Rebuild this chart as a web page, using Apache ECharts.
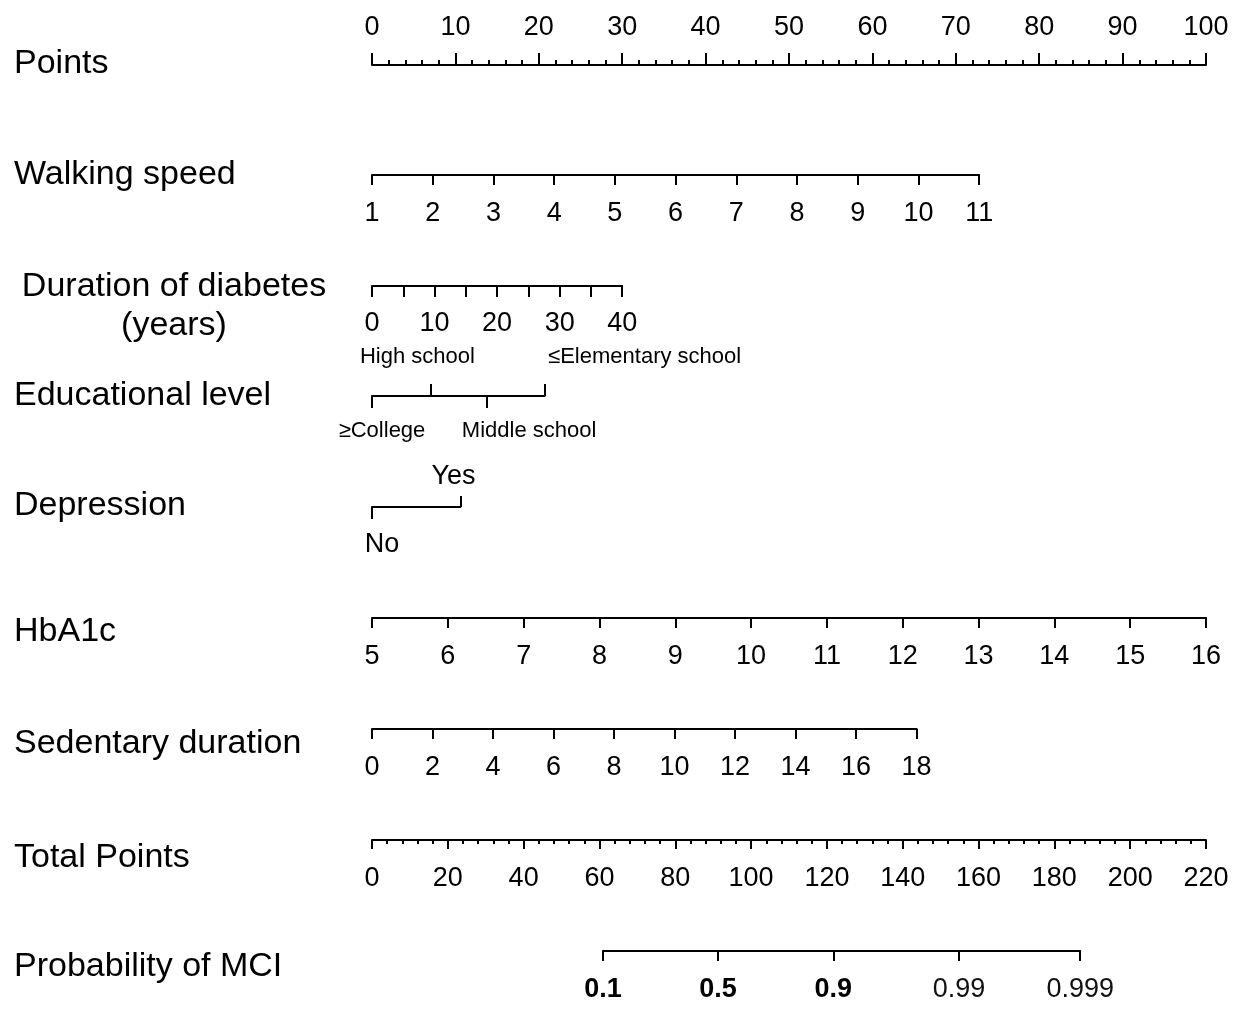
<!DOCTYPE html>
<html>
<head>
<meta charset="utf-8">
<script src="https://cdn.jsdelivr.net/npm/echarts@6/dist/echarts.min.js"></script>
<style>
  html, body { margin: 0; padding: 0; background: #fff; }
  #nomogram { width: 1240px; height: 1020px; }
</style>
</head>
<body>
<div id="nomogram"></div>
<script>
// nomogram rows: value ranges and the points they map to
const pointsRange = [0, 100]
const walkingSpeedRange = [1, 11]
const walkingSpeedPoints = [0, 72.8]
const durationRange = [0, 40]
const durationPoints = [0, 30.0]
const eduLevels = ['≥College', 'High school', 'Middle school', '≤Elementary school']
const eduPoints = [0, 7.0, 13.8, 20.7]
const depressionLevels = ['No', 'Yes']
const depressionPoints = [0, 10.6]
const hba1cRange = [5, 16]
const hba1cPoints = [0, 100]
const sedentaryRange = [0, 18]
const sedentaryPoints = [0, 65.3]
const totalPointsRange = [0, 220]
const probTicks = [0.1, 0.5, 0.9, 0.99, 0.999]
// total points = intercept + slope * logit(p)
const probIntercept = 91.3
const probSlope = 13.83
const rowNames = ['Points', 'Walking speed', 'Duration of diabetes\n(years)', 'Educational level',
  'Depression', 'HbA1c', 'Sedentary duration', 'Total Points', 'Probability of MCI']

// layout
const FONT = '"Liberation Sans", Arial, sans-serif'
const LEFT = 372
const FULL = 834
const pxPerPoint = FULL / (pointsRange[1] - pointsRange[0])
const pxPerTotal = FULL / (totalPointsRange[1] - totalPointsRange[0])
const lineY = [65, 175, 286, 396, 507, 618, 729, 840, 951]
const nameY = [64, 175, 306, 396, 506, 632, 744, 858, 967]
const eduShift = [10, -13, 42, 100]
const depShift = [10, -7]

const lineStyle = { color: '#000', width: 2 }
const labelBase = { color: '#000', fontSize: 27, fontFamily: FONT, margin: 24, showMinLabel: true, showMaxLabel: true }

const grids = []
const xAxes = []
const yAxes = []

function addRow(y, left, width, axes, atTop) {
  const gi = grids.length
  grids.push({ left: left, width: width, top: atTop ? y : y - 1, height: 1 })
  yAxes.push({ gridIndex: gi, show: false, type: 'value' })
  axes.forEach(a => {
    xAxes.push(Object.assign({
      gridIndex: gi, type: 'value', position: 'bottom',
      splitLine: { show: false }, minorSplitLine: { show: false }
    }, a))
  })
}

function pointRow(y, p0, p1, axes) {
  addRow(y, LEFT + p0 * pxPerPoint, (p1 - p0) * pxPerPoint, axes)
}

function nearest(arr, v) {
  let best = 0
  arr.forEach((a, i) => { if (Math.abs(a - v) < Math.abs(arr[best] - v)) best = i })
  return best
}

function shiftRich(shifts, size) {
  const rich = {}
  shifts.forEach((s, i) => {
    rich['s' + i] = {
      fontSize: size, fontFamily: FONT, color: '#000',
      padding: s >= 0 ? [0, 0, 0, 2 * s] : [0, -2 * s, 0, 0]
    }
  })
  return rich
}

// Points
addRow(lineY[0], LEFT, FULL, [{
  position: 'top', min: pointsRange[0], max: pointsRange[1], interval: 10,
  axisLine: { onZero: false, lineStyle },
  axisTick: { length: 12, lineStyle },
  minorTick: { show: true, splitNumber: 5, length: 5, lineStyle },
  axisLabel: labelBase
}], true)

// Walking speed
pointRow(lineY[1], walkingSpeedPoints[0], walkingSpeedPoints[1], [{
  min: walkingSpeedRange[0], max: walkingSpeedRange[1], interval: 1,
  axisLine: { onZero: false, lineStyle },
  axisTick: { length: 10, lineStyle },
  axisLabel: Object.assign({}, labelBase, { margin: 25 })
}])

// Duration of diabetes
pointRow(lineY[2], durationPoints[0], durationPoints[1], [{
  min: durationRange[0], max: durationRange[1], interval: 5,
  axisLine: { onZero: false, lineStyle },
  axisTick: { length: 11, lineStyle },
  axisLabel: Object.assign({}, labelBase, { formatter: v => (v % 10 === 0 ? String(v) : '') })
}])

// Educational level (ticks alternate down / up)
const eduRich = shiftRich(eduShift, 22)
const eduFmt = v => { const i = nearest(eduPoints, v); return '{s' + i + '|' + eduLevels[i] + '}' }
pointRow(lineY[3], eduPoints[0], eduPoints[3], [{
  min: eduPoints[0], max: eduPoints[3],
  axisLine: { onZero: false, lineStyle },
  axisTick: { length: 12, lineStyle, customValues: [eduPoints[0], eduPoints[2]] },
  axisLabel: Object.assign({}, labelBase, { margin: 24, customValues: [eduPoints[0], eduPoints[2]], formatter: eduFmt, rich: eduRich })
}, {
  min: eduPoints[0], max: eduPoints[3],
  axisLine: { show: false, onZero: false },
  axisTick: { inside: true, length: 12, lineStyle, customValues: [eduPoints[1], eduPoints[3]] },
  axisLabel: Object.assign({}, labelBase, { inside: true, margin: 28, customValues: [eduPoints[1], eduPoints[3]], formatter: eduFmt, rich: eduRich })
}])

// Depression
const depRich = shiftRich(depShift, 27)
const depFmt = v => { const i = nearest(depressionPoints, v); return '{s' + i + '|' + depressionLevels[i] + '}' }
pointRow(lineY[4], depressionPoints[0], depressionPoints[1], [{
  min: depressionPoints[0], max: depressionPoints[1],
  axisLine: { onZero: false, lineStyle },
  axisTick: { length: 12, lineStyle, customValues: [depressionPoints[0]] },
  axisLabel: Object.assign({}, labelBase, { margin: 24, customValues: [depressionPoints[0]], formatter: depFmt, rich: depRich })
}, {
  min: depressionPoints[0], max: depressionPoints[1],
  axisLine: { show: false, onZero: false },
  axisTick: { inside: true, length: 11, lineStyle, customValues: [depressionPoints[1]] },
  axisLabel: Object.assign({}, labelBase, { inside: true, margin: 17, customValues: [depressionPoints[1]], formatter: depFmt, rich: depRich })
}])

// HbA1c
pointRow(lineY[5], hba1cPoints[0], hba1cPoints[1], [{
  min: hba1cRange[0], max: hba1cRange[1], interval: 1,
  axisLine: { onZero: false, lineStyle },
  axisTick: { length: 10, lineStyle },
  axisLabel: Object.assign({}, labelBase, { margin: 25 })
}])

// Sedentary duration
pointRow(lineY[6], sedentaryPoints[0], sedentaryPoints[1], [{
  min: sedentaryRange[0], max: sedentaryRange[1], interval: 2,
  axisLine: { onZero: false, lineStyle },
  axisTick: { length: 10, lineStyle },
  axisLabel: Object.assign({}, labelBase, { margin: 25 })
}])

// Total Points
addRow(lineY[7], LEFT, FULL, [{
  min: totalPointsRange[0], max: totalPointsRange[1], interval: 20,
  axisLine: { onZero: false, lineStyle },
  axisTick: { length: 9, lineStyle },
  minorTick: { show: true, splitNumber: 5, length: 4, lineStyle },
  axisLabel: Object.assign({}, labelBase, { margin: 25 })
}])

// Probability of MCI (logit scale expressed in total points)
const probAt = p => probIntercept + probSlope * Math.log(p / (1 - p))
const probPos = probTicks.map(probAt)
const probMin = probPos[0]
const probMax = probPos[probPos.length - 1]
addRow(lineY[8], LEFT + probMin * pxPerTotal, (probMax - probMin) * pxPerTotal, [{
  min: probMin, max: probMax,
  axisLine: { onZero: false, lineStyle },
  axisTick: { length: 10, lineStyle, customValues: probPos },
  axisLabel: Object.assign({}, labelBase, {
    margin: 25,
    customValues: probPos,
    formatter: v => {
      const i = nearest(probPos, v)
      return (i < 3 ? '{b|' : '{n|') + probTicks[i] + '}'
    },
    rich: {
      b: { fontSize: 27, fontFamily: FONT, fontWeight: 'bold', color: '#000' },
      n: { fontSize: 27, fontFamily: FONT, color: '#111' }
    }
  })
}])

const chart = echarts.init(document.getElementById('nomogram'))
chart.setOption({
  backgroundColor: '#fff',
  animation: false,
  grid: grids,
  xAxis: xAxes,
  yAxis: yAxes,
  series: [],
  graphic: rowNames.map((name, i) => {
    const multi = name.indexOf('\n') >= 0
    return {
      type: 'text',
      x: multi ? 174 : 14,
      y: nameY[i],
      style: {
        text: name,
        fill: '#000',
        fontSize: 34,
        fontFamily: FONT,
        lineHeight: 39,
        align: multi ? 'center' : 'left',
        verticalAlign: 'middle'
      }
    }
  })
})
</script>
</body>
</html>
